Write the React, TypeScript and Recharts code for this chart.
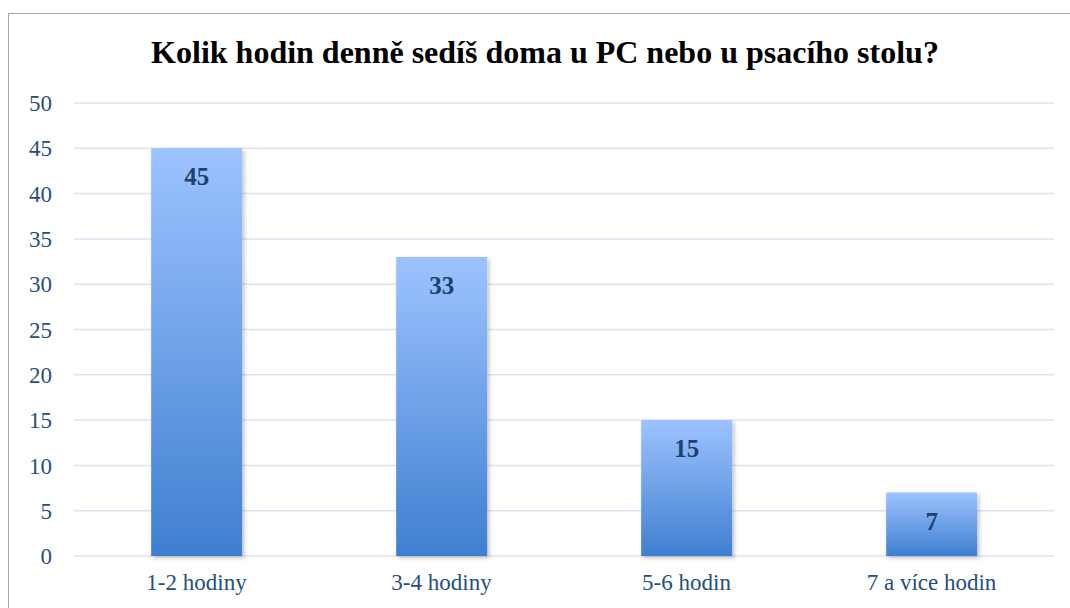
import { BarChart, Bar, XAxis, YAxis, CartesianGrid, LabelList } from "recharts";

const categories = ["1-2 hodiny", "3-4 hodiny", "5-6 hodin", "7 a více hodin"];
const counts = [45, 33, 15, 7];
const yTicks = [0, 5, 10, 15, 20, 25, 30, 35, 40, 45, 50];

const data = categories.map((name, i) => ({ name, value: counts[i] }));

const serif = "'Liberation Serif', 'Times New Roman', serif";

function ValueLabel(props: any) {
  const { x, y, width, value } = props;
  return (
    <text
      x={x + width / 2}
      y={y + 37}
      textAnchor="middle"
      fontFamily={serif}
      fontWeight="bold"
      fontSize={25}
      fill="#1f4170"
    >
      {value}
    </text>
  );
}

export default function App() {
  return (
    <div
      style={{
        position: "fixed",
        left: 0,
        top: 0,
        width: 1070,
        height: 608,
        overflow: "hidden",
        background: "#fff",
      }}
    >
      <div
        style={{
          position: "absolute",
          left: 8,
          top: 13,
          width: 1100,
          height: 640,
          border: "1px solid #a6a6a6",
        }}
      >
        <div
          style={{
            position: "absolute",
            left: 0,
            top: 20,
            width: 1072,
            textAlign: "center",
            fontFamily: serif,
            fontWeight: "bold",
            fontSize: 32,
            color: "#000",
            whiteSpace: "nowrap",
          }}
        >
          Kolik hodin denně sedíš doma u PC nebo u psacího stolu?
        </div>
        <div style={{ position: "absolute", left: 0, top: 0 }}>
          <BarChart
            width={1061}
            height={600}
            data={data}
            margin={{ top: 89, right: 16, left: 0, bottom: 0 }}
            barCategoryGap="31.5%"
          >
            <defs>
              <linearGradient id="barFill" x1="0" y1="0" x2="0" y2="1">
                <stop offset="0%" stopColor="#9dc3ff" />
                <stop offset="100%" stopColor="#3f7fd0" />
              </linearGradient>
              <filter id="barShadow" x="-10%" y="-10%" width="130%" height="130%">
                <feDropShadow dx="2" dy="2" stdDeviation="2" floodColor="#000" floodOpacity="0.25" />
              </filter>
            </defs>
            <CartesianGrid stroke="#d9e4f3" strokeWidth={1.5} vertical={false} />
            <XAxis
              dataKey="name"
              axisLine={false}
              tickLine={false}
              tickSize={0}
              tickMargin={18}
              height={58}
              tick={{ fontFamily: serif, fontSize: 23, fill: "#264f80" }}
            />
            <YAxis
              domain={[0, 50]}
              ticks={yTicks}
              width={65}
              axisLine={false}
              tickLine={false}
              tickSize={0}
              tickMargin={22}
              tick={{ fontFamily: serif, fontSize: 23, fill: "#264f80" }}
            />
            <Bar
              dataKey="value"
              fill="url(#barFill)"
              filter="url(#barShadow)"
              isAnimationActive={false}
            >
              <LabelList dataKey="value" content={<ValueLabel />} />
            </Bar>
          </BarChart>
        </div>
      </div>
    </div>
  );
}
